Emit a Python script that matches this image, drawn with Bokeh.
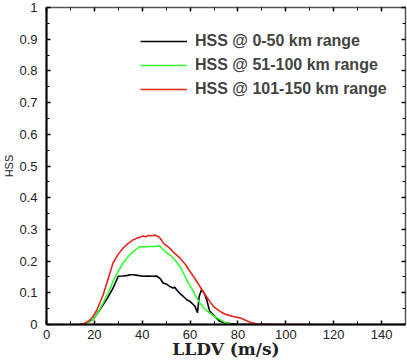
from bokeh.plotting import figure
from bokeh.models import LinearAxis, FixedTicker, Legend, LegendItem, Range1d
from bokeh.embed import file_html
from bokeh.resources import INLINE

# ---- data ----
red_x = [14, 16, 18, 19.5, 21, 23.7, 26, 27.8, 30, 32, 34, 36.2, 38, 40.4, 41.5, 42.5, 44, 45.5, 47, 48,
         49, 51.5, 53, 55.7, 58, 59.9, 62, 64.1, 66, 68.2, 70, 72.4, 74.5, 76.6, 78, 80.8, 83, 85, 87.8, 90, 100, 110.5]
red_y = [0, 0.004, 0.013, 0.026, 0.045, 0.094, 0.15, 0.194, 0.222, 0.241, 0.255, 0.267, 0.273, 0.279, 0.277, 0.281, 0.28, 0.282, 0.276, 0.267,
         0.255, 0.241, 0.228, 0.21, 0.19, 0.168, 0.145, 0.12, 0.097, 0.073, 0.055, 0.042, 0.033, 0.028, 0.025, 0.021, 0.014, 0.007, 0.002, 0, 0, 0]

green_x = [14, 16, 18, 19.5, 21.5, 23.7, 26, 27.8, 30, 32, 34, 36.2, 38, 39, 41, 43.2, 45, 47.3, 48.7, 50,
           51.5, 53.5, 55.7, 57, 58.5, 60, 61.3, 62.5, 64.1, 66, 68.2, 70, 72.4, 74, 75.2, 77]
green_y = [0, 0.003, 0.009, 0.016, 0.038, 0.068, 0.103, 0.136, 0.168, 0.194, 0.213, 0.23, 0.24, 0.246, 0.245, 0.246, 0.246, 0.248, 0.236, 0.228,
           0.22, 0.205, 0.183, 0.165, 0.142, 0.122, 0.105, 0.087, 0.068, 0.05, 0.037, 0.026, 0.016, 0.009, 0.005, 0]

black_x = [14, 16, 18, 19.5, 21.5, 23.7, 26, 27.8, 29, 30, 32, 34, 35, 36.2, 38, 40.4, 42, 44.5, 46, 47.5,
           48.7, 50, 51.5, 52.9, 53.5, 54.3, 55.5, 57.1, 58.5, 59.9, 61.3, 62, 63.1, 63.8, 64.8, 65.8, 66.9, 68.2,
           69.6, 71, 72.4, 74.5, 77, 80, 95]
black_y = [0, 0.003, 0.009, 0.016, 0.038, 0.063, 0.09, 0.115, 0.135, 0.152, 0.153, 0.155, 0.157, 0.157, 0.155, 0.152, 0.153, 0.152, 0.153, 0.145,
           0.131, 0.128, 0.12, 0.115, 0.118, 0.11, 0.1, 0.089, 0.079, 0.073, 0.063, 0.058, 0.037, 0.089, 0.11, 0.1, 0.079, 0.042,
           0.031, 0.02, 0.01, 0.005, 0.002, 0, 0]

series_labels = ["HSS @ 0-50 km range", "HSS @ 51-100 km range", "HSS @ 101-150 km range"]
series_colors = ["#000000", "#33ff33", "#e8261e"]

x_ticks = [0, 20, 40, 60, 80, 100, 120, 140]
x_tick_labels = ["0", "20", "40", "60", "80", "100", "120", "140"]
y_ticks = [0, 0.1, 0.2, 0.3, 0.4, 0.5, 0.6, 0.7, 0.8, 0.9, 1.0]
y_tick_labels = ["0", "0.1", "0.2", "0.3", "0.4", "0.5", "0.6", "0.7", "0.8", "0.9", "1"]
x_minor = [10, 30, 50, 70, 90, 110, 130, 150]
y_minor = [0.05, 0.15, 0.25, 0.35, 0.45, 0.55, 0.65, 0.75, 0.85, 0.95]

p = figure(width=407, height=361, output_backend="svg", toolbar_location=None,
           x_range=Range1d(0, 150), y_range=Range1d(0, 1),
           min_border_left=46, min_border_right=2, min_border_top=7, min_border_bottom=36,
           x_axis_location=None, y_axis_location=None)
p.grid.visible = False
p.outline_line_color = "#555555"
p.outline_line_width = 1.5
p.background_fill_color = "white"
p.border_fill_color = "white"

xt = FixedTicker(ticks=x_ticks, minor_ticks=x_minor)
yt = FixedTicker(ticks=y_ticks, minor_ticks=y_minor)

def style(ax, labels):
    ax.major_tick_in = 4
    ax.major_tick_out = 0
    ax.minor_tick_in = 3
    ax.minor_tick_out = 0
    ax.major_tick_line_color = "black"
    ax.minor_tick_line_color = "black"
    ax.major_tick_line_width = 1.5
    ax.minor_tick_line_width = 1
    if not labels:
        ax.major_label_standoff = 0
        ax.axis_line_color = "#555555"

bx = LinearAxis(ticker=xt, major_label_overrides=dict(zip(x_ticks, x_tick_labels)))
style(bx, True)
bx.axis_line_width = 2
bx.axis_label = "LLDV (m/s)"
bx.axis_label_text_font = "DejaVu Serif"
bx.axis_label_text_font_style = "bold"
bx.axis_label_text_font_size = "17px"
bx.axis_label_text_color = "#222222"
bx.axis_label_standoff = -3
bx.major_label_text_font = "Liberation Sans"
bx.major_label_text_font_size = "13px"
bx.major_label_text_color = "#222222"
bx.major_label_standoff = 5
p.add_layout(bx, "below")

ly = LinearAxis(ticker=yt, major_label_overrides=dict(zip(y_ticks, y_tick_labels)))
style(ly, True)
ly.axis_line_width = 2
ly.axis_label = "HSS"
ly.axis_label_text_font = "Liberation Sans"
ly.axis_label_text_font_style = "normal"
ly.axis_label_text_font_size = "11px"
ly.axis_label_text_color = "#222222"
ly.axis_label_standoff = 1
ly.major_label_text_font = "Liberation Sans"
ly.major_label_text_font_size = "13px"
ly.major_label_text_color = "#222222"
ly.major_label_standoff = 9
p.add_layout(ly, "left")

tx = LinearAxis(ticker=xt, major_label_overrides={t: "" for t in x_ticks})
style(tx, False)
p.add_layout(tx, "above")
ry = LinearAxis(ticker=yt, major_label_overrides={t: "" for t in y_ticks})
style(ry, False)
p.add_layout(ry, "right")

renderers = []
for xs, ys, c in zip([black_x, green_x, red_x], [black_y, green_y, red_y], series_colors):
    renderers.append(p.line(xs, ys, line_color=c, line_width=1.6))

legend = Legend(items=[LegendItem(label=l, renderers=[r]) for l, r in zip(series_labels, renderers)],
                location=(94, 223))
legend.border_line_color = None
legend.background_fill_alpha = 0
legend.label_text_font = "Liberation Sans"
legend.label_text_font_style = "bold"
legend.label_text_font_size = "16px"
legend.glyph_width = 47
legend.glyph_height = 24
legend.label_height = 24
legend.label_standoff = 8
legend.spacing = 0
legend.padding = 0
legend.margin = 0
p.add_layout(legend, "center")

open("out.html", "w").write(file_html(p, INLINE))
